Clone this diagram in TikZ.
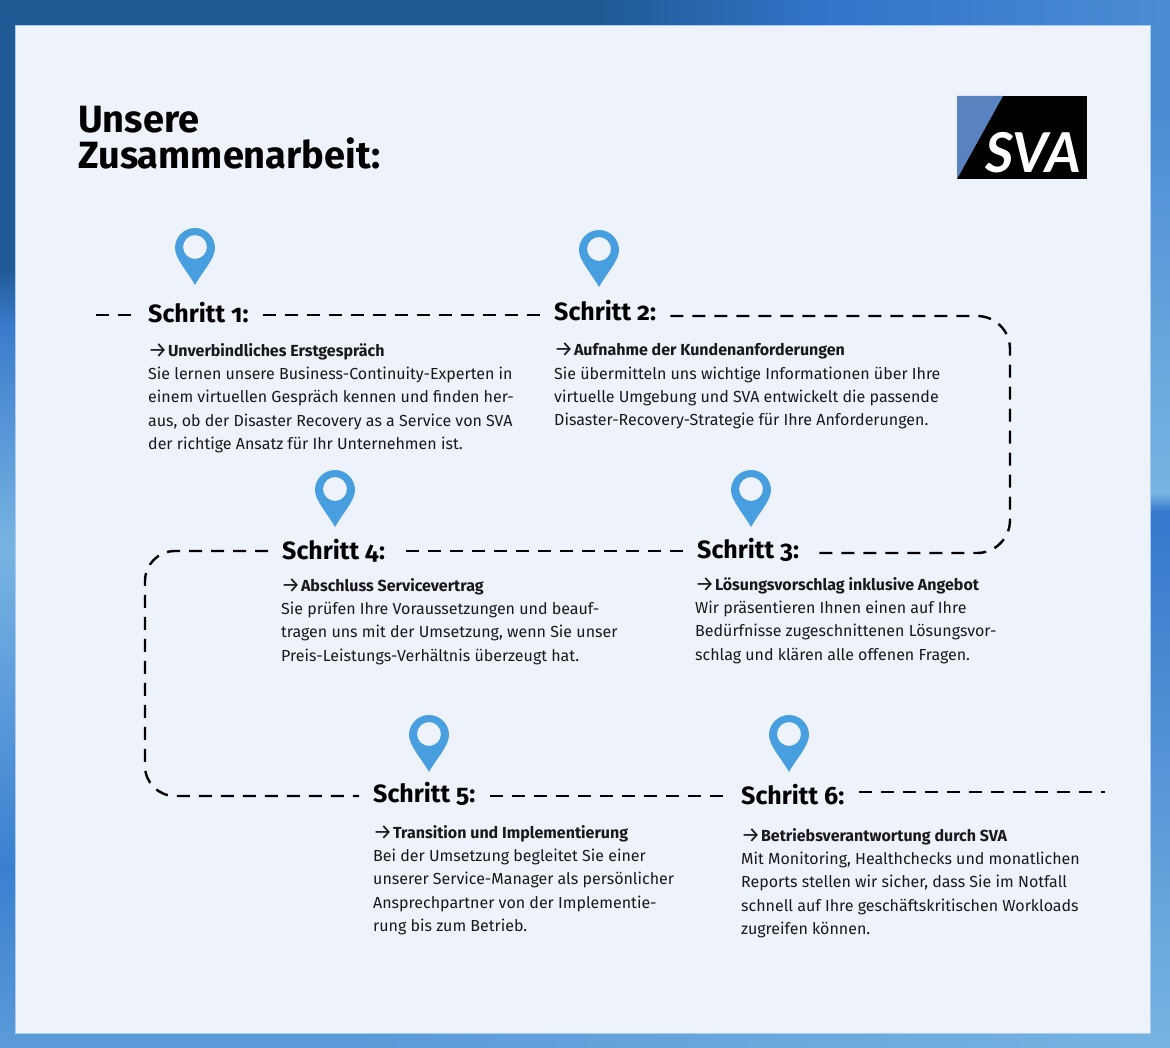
\documentclass[tikz,border=0pt]{standalone}
\usepackage{fontspec}
\setmainfont[Numbers=OldStyle]{Fira Sans}
\newfontfamily\logofont{Lato}
\definecolor{panelbg}{HTML}{EEF2FB}
\definecolor{panelline}{HTML}{A8CDF0}
\definecolor{pinblue}{HTML}{479FDF}
\definecolor{logoblue}{HTML}{5A82C0}
\definecolor{sa}{HTML}{5A9AD8}
\definecolor{sb}{HTML}{3A80D0}
\definecolor{sc}{HTML}{78B4E2}
\definecolor{sd}{HTML}{3A7CCC}
\definecolor{se}{HTML}{205A94}
\definecolor{sf}{HTML}{4A8CD4}
\definecolor{sg}{HTML}{3578CC}
\definecolor{sh}{HTML}{3074C8}
\pgfdeclareverticalshading{leftstrip}{100bp}{color(0bp)=(sa); color(25bp)=(sa); color(33.6bp)=(sb); color(48.9bp)=(sc); color(59.4bp)=(sd); color(62.2bp)=(se); color(100bp)=(se)}
\pgfdeclareverticalshading{rightstrip}{100bp}{color(0bp)=(sc); color(25bp)=(sc); color(50.6bp)=(sg); color(51.5bp)=(sc); color(70bp)=(sf); color(100bp)=(sf)}
\pgfdeclarehorizontalshading{topstrip}{100bp}{color(0bp)=(se); color(50.5bp)=(se); color(60bp)=(sh); color(75bp)=(sf); color(100bp)=(sf)}
\pgfdeclarehorizontalshading{bottomstrip}{100bp}{color(0bp)=(sa); color(40bp)=(sa); color(75bp)=(sc); color(100bp)=(sc)}
\newcommand{\steparrow}{{\mdseries\fontsize{21.5}{23.3}\selectfont\raisebox{-1pt}{→}}\kern.5pt}
\tikzset{
  stephead/.style={anchor=base west,font=\fontsize{25}{25}\selectfont\bfseries,text height=16pt,text depth=0pt,inner ysep=0pt,inner xsep=14pt},
  stepbody/.style={anchor=north west,align=left,inner sep=0pt,font=\fontsize{16}{23.3}\selectfont,text=black!90},
  pathline/.style={line width=2.4pt,dash pattern=on 13pt off 9pt},
  pin/.pic={
    \fill[pinblue,even odd rule] (0,57) .. controls (-7,44) and (-20,31) .. (-20,20)
      .. controls (-20,9) and (-11,0) .. (0,0) .. controls (11,0) and (20,9) .. (20,20)
      .. controls (20,31) and (7,44) .. (0,57) -- cycle (0,19) circle [radius=12];
  }
}
\begin{document}
\begin{tikzpicture}[x=1pt,y=-1pt]
  \useasboundingbox (0,0) rectangle (1170,1048);
  % frame
  \shade[shading=leftstrip] (0,0) rectangle (16,1048);
  \shade[shading=rightstrip] (1149,0) rectangle (1170,1048);
  \shade[shading=topstrip] (0,0) rectangle (1170,26);
  \shade[shading=bottomstrip] (0,1032) rectangle (1170,1048);
  \fill[panelbg,draw=panelline,line width=1pt] (15.5,25.5) rectangle (1150,1033);
  % logo
  \fill[black] (957,96) rectangle (1087,179);
  \fill[logoblue] (957,96) -- (1003,96) -- (957,179) -- cycle;
  \node[anchor=base west,inner sep=0pt,text=white,font=\fontsize{55}{55}\selectfont\logofont\bfseries\itshape] (logo) at (985,173) {SVA};
  % title
  \node[anchor=north west,align=left,inner sep=0pt,font=\fontsize{38}{35.5}\selectfont\bfseries] (title) at (78,106) {Unsere\\Zusammenarbeit:};
  % pins
  \pic at (195,228) {pin};
  \pic at (599,230) {pin};
  \pic at (751,470) {pin};
  \pic at (335,470) {pin};
  \pic at (429,715) {pin};
  \pic at (789,715) {pin};
  % headings
  \coordinate (start) at (96,315);
  \coordinate (end) at (1105,792);
  \coordinate (cornerr) at (1010,553);
  \coordinate (cornerl) at (145,551);
  \node[stephead] (s1) at (134,323) {Schritt 1:};
  \node[stephead] (s2) at (540,321) {Schritt 2:};
  \node[stephead] (s3) at (683,558) {Schritt 3:};
  \node[stephead] (s4) at (268,559) {Schritt 4:};
  \node[stephead] (s5) at (359,802) {Schritt 5:};
  \node[stephead] (s6) at (727,804) {Schritt 6:};
  % dashed route
  \draw[pathline] (start) -- (s1.west);
  \draw[pathline] (s1.east) -- ([yshift=-2pt]s2.west);
  \draw[pathline,rounded corners=33pt] ([yshift=-3pt]s2.east) -- ([yshift=-3pt]s2.east -| cornerr) -- (cornerr) -- ([yshift=-3pt]s3.east);
  \draw[pathline] ([yshift=-1pt]s3.west) -- (s4.east);
  \draw[pathline,rounded corners=30pt] (s4.west) -- (cornerl) -- ([yshift=-2pt]cornerl |- s5.west) -- ([yshift=-2pt]s5.west);
  \draw[pathline] ([yshift=-2pt]s5.east) -- (s6.west);
  \draw[pathline] ([yshift=4pt]s6.east) -- (end);
  % texts
  \node[stepbody] (b1) at (148,343) {{\steparrow\bfseries Unverbindliches Erstgespräch}\\Sie lernen unsere Business-Continuity-Experten in\\einem virtuellen Gespräch kennen und finden her-\\aus, ob der Disaster Recovery as a Service von SVA\\der richtige Ansatz für Ihr Unternehmen ist.};
  \node[stepbody] (b2) at (554,343) {{\steparrow\bfseries Aufnahme der Kundenanforderungen}\\Sie übermitteln uns wichtige Informationen über Ihre\\virtuelle Umgebung und SVA entwickelt die passende\\Disaster-Recovery-Strategie für Ihre Anforderungen.};
  \node[stepbody] (b3) at (695,577) {{\steparrow\bfseries Lösungsvorschlag inklusive Angebot}\\Wir präsentieren Ihnen einen auf Ihre\\Bedürfnisse zugeschnittenen Lösungsvor-\\schlag und klären alle offenen Fragen.};
  \node[stepbody] (b4) at (281,578) {{\steparrow\bfseries Abschluss Servicevertrag}\\Sie prüfen Ihre Voraussetzungen und beauf-\\tragen uns mit der Umsetzung, wenn Sie unser\\Preis-Leistungs-Verhältnis überzeugt hat.};
  \node[stepbody] (b5) at (373,825) {{\steparrow\bfseries Transition und Implementierung}\\Bei der Umsetzung begleitet Sie einer\\unserer Service-Manager als persönlicher\\Ansprechpartner von der Implementie-\\rung bis zum Betrieb.};
  \node[stepbody] (b6) at (741,828) {{\steparrow\bfseries Betriebsverantwortung durch SVA}\\Mit Monitoring, Healthchecks und monatlichen\\Reports stellen wir sicher, dass Sie im Notfall\\schnell auf Ihre geschäftskritischen Workloads\\zugreifen können.};
\end{tikzpicture}
\end{document}
